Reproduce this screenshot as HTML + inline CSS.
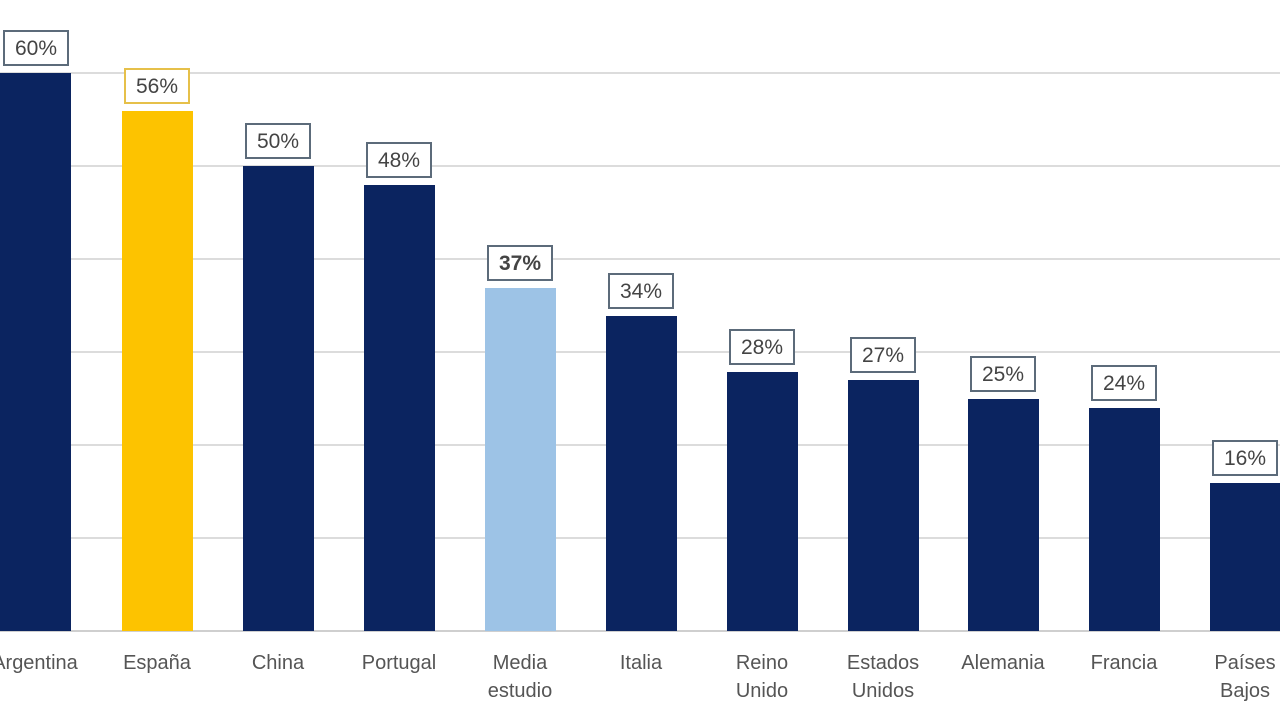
<!DOCTYPE html>
<html><head><meta charset="utf-8"><style>
body{margin:0;width:1280px;height:720px;background:#fff;position:relative;overflow:hidden;font-family:"Liberation Sans",sans-serif}
.g{position:absolute;left:0;width:1280px;height:2px;background:#dcdcdc}
.b{position:absolute;width:71px;bottom:89px}
.l{position:absolute;width:62px;height:32px;border:2px solid #5c6b7a;background:#fff;color:#444;font-size:21px;line-height:34px;text-align:center}
.c{position:absolute;top:649px;width:140px;text-align:center;color:#555;font-size:20px;line-height:28px}
</style></head><body>
<div class="g" style="top:72px"></div>
<div class="g" style="top:165px"></div>
<div class="g" style="top:258px"></div>
<div class="g" style="top:351px"></div>
<div class="g" style="top:444px"></div>
<div class="g" style="top:537px"></div>
<div class="g" style="top:630px;background:#cfcfcf"></div>

<div class="b" style="left:0;top:73px;background:#0b2460"></div>
<div class="b" style="left:122px;top:111px;background:#fdc300"></div>
<div class="b" style="left:243px;top:166px;background:#0b2460"></div>
<div class="b" style="left:364px;top:185px;background:#0b2460"></div>
<div class="b" style="left:485px;top:288px;background:#9dc3e6"></div>
<div class="b" style="left:606px;top:316px;background:#0b2460"></div>
<div class="b" style="left:727px;top:372px;background:#0b2460"></div>
<div class="b" style="left:848px;top:380px;background:#0b2460"></div>
<div class="b" style="left:968px;top:399px;background:#0b2460"></div>
<div class="b" style="left:1089px;top:408px;background:#0b2460"></div>
<div class="b" style="left:1210px;top:483px;background:#0b2460"></div>

<div class="l" style="left:3px;top:30px">60%</div>
<div class="l" style="left:124px;top:68px;border-color:#e6c04a">56%</div>
<div class="l" style="left:245px;top:123px">50%</div>
<div class="l" style="left:366px;top:142px">48%</div>
<div class="l" style="left:487px;top:245px;font-weight:bold">37%</div>
<div class="l" style="left:608px;top:273px">34%</div>
<div class="l" style="left:729px;top:329px">28%</div>
<div class="l" style="left:850px;top:337px">27%</div>
<div class="l" style="left:970px;top:356px">25%</div>
<div class="l" style="left:1091px;top:365px">24%</div>
<div class="l" style="left:1212px;top:440px">16%</div>

<div class="c" style="left:-35px">Argentina</div>
<div class="c" style="left:87px">España</div>
<div class="c" style="left:208px">China</div>
<div class="c" style="left:329px">Portugal</div>
<div class="c" style="left:450px">Media<br>estudio</div>
<div class="c" style="left:571px">Italia</div>
<div class="c" style="left:692px">Reino<br>Unido</div>
<div class="c" style="left:813px">Estados<br>Unidos</div>
<div class="c" style="left:933px">Alemania</div>
<div class="c" style="left:1054px">Francia</div>
<div class="c" style="left:1175px">Países<br>Bajos</div>
</body></html>
